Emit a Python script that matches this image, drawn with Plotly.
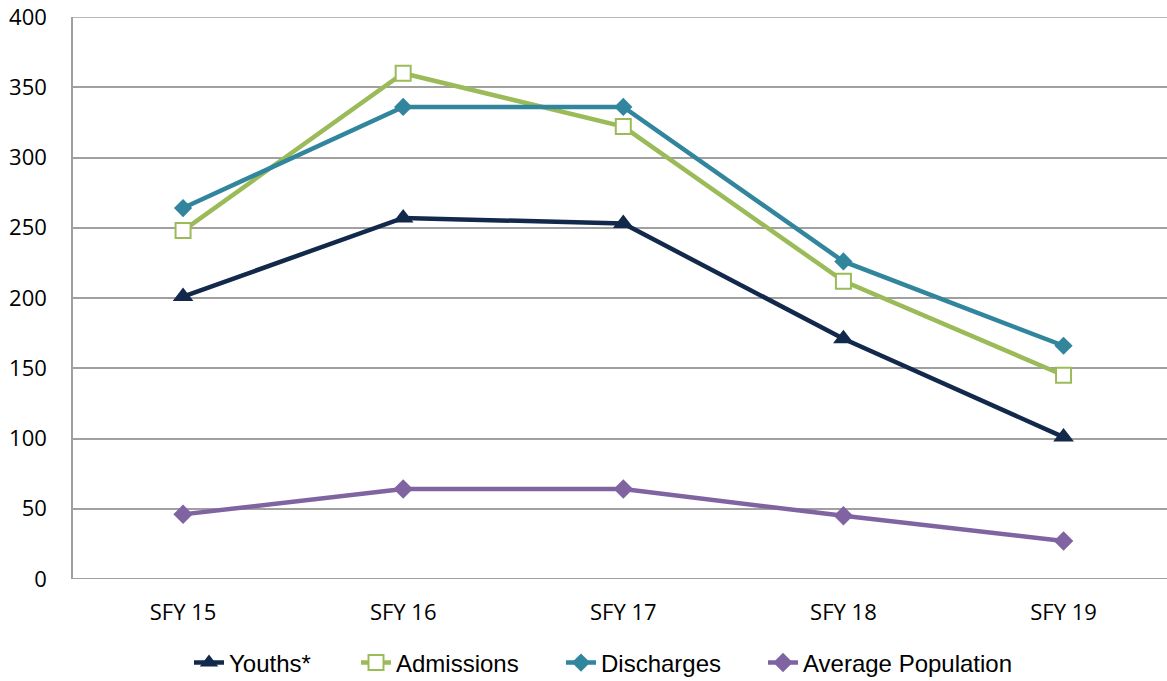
import plotly.graph_objects as go

categories = ["SFY 15", "SFY 16", "SFY 17", "SFY 18", "SFY 19"]
youths = [201, 257, 253, 171, 101]
admissions = [248, 360, 322, 212, 145]
discharges = [264, 336, 336, 226, 166]
avg_population = [46, 64, 64, 45, 27]
y_ticks = [0, 50, 100, 150, 200, 250, 300, 350, 400]

W, H = 1167, 681

series = [
    ("Youths*", youths, "#13294B", dict(symbol="triangle-up", size=18, color="#13294B"), 231),
    ("Admissions", admissions, "#9BBB59", dict(symbol="square", size=15, color="white",
                                                line=dict(color="#9BBB59", width=2)), 398),
    ("Discharges", discharges, "#31859C", dict(symbol="diamond", size=14, color="#31859C"), 603),
    ("Average Population", avg_population, "#8064A2", dict(symbol="diamond", size=15, color="#8064A2"), 805),
]

fig = go.Figure()
legend_layout = {}
for i, (name, vals, color, marker, text_x) in enumerate(series):
    lg = "legend" if i == 0 else f"legend{i+1}"
    fig.add_trace(go.Scatter(
        x=list(range(len(categories))), y=vals, name=name, mode="lines+markers",
        line=dict(color=color, width=4.5), marker=marker, legend=lg,
    ))
    legend_layout[lg] = dict(
        orientation="h", xref="container", yref="container",
        x=(text_x - 42) / W, xanchor="left",
        y=1 - 663 / H, yanchor="middle",
        font=dict(family="Liberation Sans, Arial, sans-serif", size=24, color="#000"),
        bgcolor="rgba(0,0,0,0)",
    )

fig.update_layout(
    width=W, height=H,
    margin=dict(l=73, r=0, t=17, b=102, autoexpand=False),
    paper_bgcolor="white", plot_bgcolor="white",
    font=dict(family="Open Sans, sans-serif", color="#000000"),
    showlegend=True,
    xaxis=dict(
        tickmode="array", tickvals=list(range(len(categories))), ticktext=categories,
        range=[-0.5, 4.47], showgrid=False, zeroline=False, automargin=False,
        showline=False, ticks="", tickfont=dict(size=22), ticklabelstandoff=18,
    ),
    yaxis=dict(
        range=[0, 400], tickmode="array", tickvals=y_ticks, automargin=False,
        showgrid=True, gridcolor="#A0A0A0", gridwidth=1.5,
        zeroline=False, showline=True, linecolor="#A0A0A0", linewidth=1.5,
        ticks="", tickfont=dict(size=22), ticklabelstandoff=20,
        ticklabeloverflow="allow",
    ),
    **legend_layout,
)
for yv in (y_ticks[0], y_ticks[-1]):
    fig.add_shape(type="line", xref="paper", yref="y", x0=0, x1=1, y0=yv, y1=yv,
                  line=dict(color="#A0A0A0", width=2 if yv == 0 else 1.5), layer="below")

fig.write_html(
    "out.html",
    config={"displayModeBar": False},
    post_script="document.body.style.margin='0';document.body.style.overflow='hidden';",
)
